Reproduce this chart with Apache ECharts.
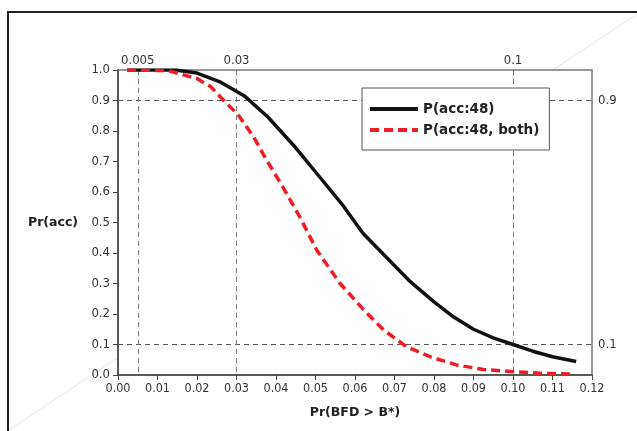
<!DOCTYPE html>
<html>
<head>
<meta charset="utf-8">
<script src="https://cdn.jsdelivr.net/npm/echarts@6/dist/echarts.min.js"></script>
<style>html,body{margin:0;padding:0;background:#fff}#c{width:637px;height:431px}</style>
</head>
<body>
<div id="c"></div>
<script>
// ---- data ----
var seriesNames = ['P(acc:48)', 'P(acc:48, both)'];
var xAcc = [0.0023, 0.0145, 0.020, 0.026, 0.032, 0.038, 0.045, 0.051, 0.057, 0.062, 0.068, 0.074, 0.080, 0.085, 0.090, 0.095, 0.100, 0.105, 0.110, 0.116];
var yAcc = [1.000, 1.000, 0.990, 0.960, 0.915, 0.845, 0.745, 0.650, 0.555, 0.465, 0.385, 0.306, 0.240, 0.190, 0.150, 0.122, 0.100, 0.078, 0.060, 0.044];
var xBoth = [0.0023, 0.0127, 0.020, 0.0235, 0.027, 0.0305, 0.0343, 0.0376, 0.042, 0.046, 0.0503, 0.0562, 0.0621, 0.0672, 0.073, 0.079, 0.0857, 0.0925, 0.100, 0.1077, 0.115];
var yBoth = [1.000, 0.998, 0.972, 0.945, 0.897, 0.852, 0.781, 0.705, 0.610, 0.519, 0.410, 0.300, 0.215, 0.148, 0.093, 0.060, 0.033, 0.018, 0.011, 0.005, 0.003];
var topTicks = [0.005, 0.03, 0.1];
var rightTicks = [0.1, 0.9];
var xAxisName = 'Pr(BFD > B*)';
var yAxisName = 'Pr(acc)';

function pairs(xs, ys) { return xs.map(function (x, i) { return [x, ys[i]]; }); }

var FONT = '"DejaVu Sans Condensed", "DejaVu Sans", sans-serif';
var BFONT = '"DejaVu Sans", sans-serif';
var chart = echarts.init(document.getElementById('c'), null, {renderer: 'canvas'});
chart.setOption({
  animation: false,
  backgroundColor: '#fff',
  textStyle: {fontFamily: FONT},
  graphic: [
    {type: 'line', z: -10, shape: {x1: 0, y1: 436, x2: 637, y2: 14}, style: {stroke: '#eee5d3', lineWidth: 1}},
    {type: 'rect', z: 100, shape: {x: 8, y: 12, width: 700, height: 500}, style: {fill: null, stroke: '#222', lineWidth: 2}}
  ],
  grid: {left: 118, right: 45, top: 70, bottom: 56, show: true, backgroundColor: '#fff', borderColor: '#777', borderWidth: 1.5},
  legend: {
    left: 362, top: 88, orient: 'vertical',
    backgroundColor: '#fff', borderColor: '#555', borderWidth: 1, borderRadius: 0,
    padding: [14, 10, 13, 6], itemWidth: 48, itemHeight: 14, itemGap: 7,
    itemStyle: {opacity: 0},
    lineStyle: {width: 4},
    textStyle: {fontFamily: BFONT, fontWeight: 'bold', fontSize: 13.5, color: '#222'},
    data: seriesNames
  },
  xAxis: [{
    type: 'value', position: 'bottom', min: 0, max: 0.12, interval: 0.01,
    name: xAxisName, nameLocation: 'middle', nameGap: 31,
    nameTextStyle: {fontFamily: BFONT, fontWeight: 'bold', fontSize: 12.5, color: '#222'},
    axisLine: {show: true, lineStyle: {color: '#444', width: 1.5}},
    axisTick: {show: true, inside: false, length: 5, lineStyle: {color: '#444'}},
    axisLabel: {fontFamily: FONT, fontSize: 12.5, color: '#333', margin: 7, formatter: function (v) { return v.toFixed(2); }},
    splitLine: {show: false}
  }, {
    type: 'value', position: 'top', min: 0, max: 0.12,
    axisLine: {show: false},
    axisTick: {show: false, customValues: topTicks},
    axisLabel: {fontFamily: FONT, fontSize: 13, color: '#333', margin: 3, customValues: topTicks},
    splitLine: {show: true, lineStyle: {color: '#777', type: [5, 4], width: 1}}
  }],
  yAxis: [{
    type: 'value', position: 'left', min: 0, max: 1, interval: 0.1,
    name: yAxisName, nameLocation: 'middle', nameGap: 40, nameRotate: 0,
    nameTextStyle: {fontFamily: BFONT, fontWeight: 'bold', fontSize: 12.5, color: '#222'},
    axisLine: {show: true, lineStyle: {color: '#444', width: 1.5}},
    axisTick: {show: true, inside: false, length: 5, lineStyle: {color: '#444'}},
    axisLabel: {fontFamily: FONT, fontSize: 13, color: '#333', margin: 8, formatter: function (v) { return v.toFixed(1); }},
    splitLine: {show: false}
  }, {
    type: 'value', position: 'right', min: 0, max: 1,
    axisLine: {show: false},
    axisTick: {show: false, customValues: rightTicks},
    axisLabel: {fontFamily: FONT, fontSize: 13, color: '#333', margin: 6, customValues: rightTicks},
    splitLine: {show: true, lineStyle: {color: '#555', type: [5, 4], width: 1}}
  }],
  series: [{
    name: seriesNames[0], type: 'line', xAxisIndex: 0, yAxisIndex: 0,
    symbol: 'none', smooth: false, z: 3,
    lineStyle: {color: '#111', width: 3.5},
    itemStyle: {color: '#111'},
    data: pairs(xAcc, yAcc)
  }, {
    name: seriesNames[1], type: 'line', xAxisIndex: 0, yAxisIndex: 0,
    symbol: 'none', smooth: false, z: 4,
    lineStyle: {color: '#ee1c25', width: 3.5, type: [9, 5]},
    itemStyle: {color: '#ee1c25'},
    data: pairs(xBoth, yBoth)
  }]
});
</script>
</body>
</html>
